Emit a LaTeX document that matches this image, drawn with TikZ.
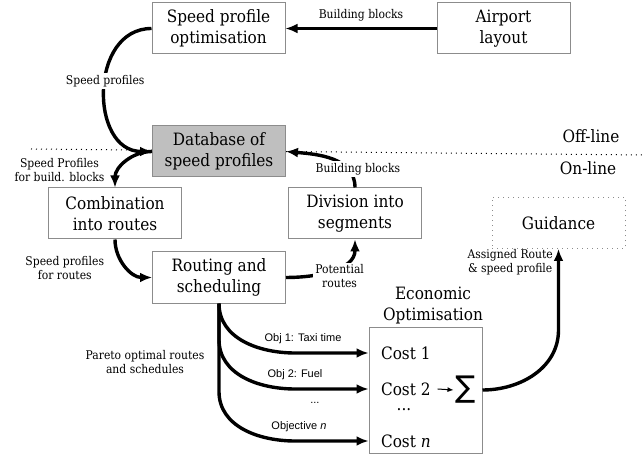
\documentclass[tikz,border=0pt]{standalone}
\usepackage{fontspec}
\setmainfont{DejaVu Serif Condensed}
\newfontfamily\objfont{Liberation Sans}
\newfontfamily\sumfont{DejaVu Sans}
\usetikzlibrary{arrows.meta}

\tikzset{
  block/.style={draw=black!45, line width=0.5pt, minimum width=66.5pt, minimum height=25.5pt,
    align=center, font=\fontsize{8.5}{10.5}\selectfont},
  txt/.style={align=center, font=\fontsize{8.5}{10.5}\selectfont},
  flow/.style={line width=1.7pt, -{Latex[length=6pt,width=5pt]}},
  lbl/.style={align=center, font=\fontsize{6}{7}\selectfont, inner sep=1pt},
  objlbl/.style={font=\objfont\fontsize{5.5}{6.5}\selectfont, inner sep=1pt},
}

\begin{document}
\begin{tikzpicture}[x=0.5pt,y=-0.5pt]
\useasboundingbox (0,0) rectangle (642,458);

% Off-line / on-line divider
\draw[dotted, line width=0.5pt] (31,149) -- (642,155);
\node[txt] (offline) at (591,136) {Off-line};
\node[txt] (online) at (588,168) {On-line};

% Blocks
\node[block] (spo) at (218.5,28.5) {Speed profile\\optimisation};
\node[block] (airport) at (503.5,28.5) {Airport\\layout};
\node[block, fill=black!25] (db) at (219,151.5) {Database of\\speed profiles};
\node[block] (comb) at (115,213.5) {Combination\\into routes};
\node[block] (div) at (355,213.5) {Division into\\segments};
\node[block, dotted] (guid) at (558.5,223) {Guidance};
\node[block] (rout) at (219,277.5) {Routing and\\scheduling};

% Economic optimisation
\node[block, minimum width=56.5pt, minimum height=63pt] (econ) at (425.5,391) {};
\node[txt] (econlbl) at (433,306) {Economic\\Optimisation};
\node[txt, anchor=west] (cost1) at (374,353) {Cost 1};
\node[txt, anchor=west] (cost2) at (374,389) {Cost 2};
\node[txt, inner sep=0pt] (cdots) at (404,410) {...};
\node[txt, anchor=west] (costn) at (374,441) {Cost \textit{n}};
\node[font=\sumfont\fontsize{15}{15}\selectfont, inner sep=1pt] (sum) at (466,390) {∑};
\draw[line width=0.5pt, -{Latex[length=3pt,width=2.5pt]}] (cost2.east) -- (sum.west);

% Off-line flows
\draw[flow] (airport.west) -- node[lbl, above=2pt] {Building blocks} (spo.east);
\draw[flow] (spo.west) to[out=180, in=180, looseness=1.3]
  node[lbl, fill=white, pos=0.45] {Speed profiles} (db.west);

% On-line flows
\draw[flow] (db.west) to[out=180, in=90]
  node[lbl, pos=0.45, anchor=east, xshift=-10pt, yshift=-5pt] {Speed Profiles\\for build. blocks} (comb.north);
\draw[flow] (comb.south) to[out=-90, in=180]
  node[lbl, pos=0.5, anchor=east, xshift=-9pt, yshift=-1pt] {Speed profiles\\for routes} (rout.west);
\draw[flow] (rout.east) to[out=0, in=-90]
  node[lbl, fill=white, pos=0.6, yshift=-5pt] {Potential\\routes} (div.south);
\draw[flow] (div.north) to[out=90, in=-5]
  node[lbl, fill=white, pos=0.3, xshift=6pt, yshift=-1pt] {Building blocks} (db.east);

% Pareto optimal routes
\node[lbl] (pareto) at (145,362) {Pareto optimal routes\\and schedules};
\draw[flow] (rout.south) to[out=-90, in=180] (295,353)
  node[objlbl, above=3pt, xshift=4pt] {Obj 1: Taxi time} -- (econ.west |- cost1);
\draw[flow] (rout.south) -- ++(0,36) to[out=-90, in=180] (295,389)
  node[objlbl, above=3pt] {Obj 2: Fuel}
  -- node[objlbl, pos=0.27, below=5pt] {...} (econ.west |- cost2);
\draw[flow] (rout.south) -- ++(0,88) to[out=-90, in=180] (295,441)
  node[objlbl, above=3pt, xshift=2pt] {Objective \textit{n}} -- (econ.west |- costn);

% Assigned route
\coordinate (bend) at (558.5,330);
\draw[flow] (econ.east |- sum) to[out=0, in=-90] (bend)
  -- node[lbl, left=1pt, pos=0.84] {Assigned Route\\\& speed profile} (guid.south);

\end{tikzpicture}
\end{document}
